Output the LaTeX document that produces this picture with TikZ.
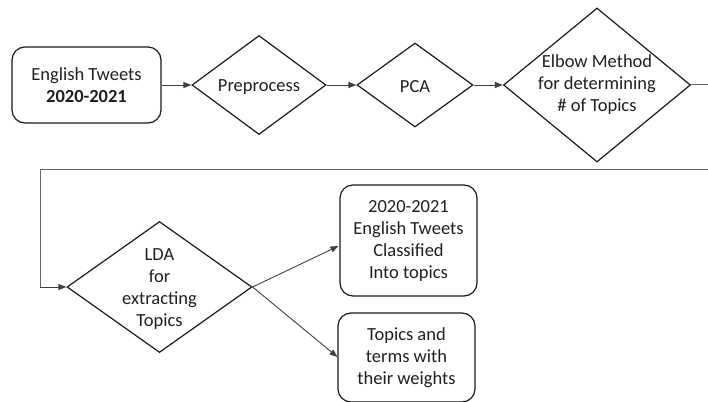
\documentclass[tikz,border=0pt]{standalone}
\usepackage{fontspec}
\setmainfont{Carlito}
\usetikzlibrary{shapes.geometric,arrows.meta}
\begin{document}
\begin{tikzpicture}[x=1pt,y=-1pt,
  txt/.style={align=center,text=black!88,font=\fontsize{18.5}{22}\selectfont,inner sep=0pt},
  rbox/.style={draw=black!90,line width=1.2pt,rounded corners=13pt,inner sep=0pt},
  dia/.style={draw=black!90,line width=1.2pt,diamond,inner sep=0pt},
  arr/.style={draw=black!75,line width=0.9pt,-{Triangle[length=8pt,width=6pt]}},
  loopline/.style={draw=black!60,line width=1pt}]
\useasboundingbox (0,0) rectangle (708,401);
% first row
\node[rbox,minimum width=149pt,minimum height=76pt] (src) at (86.5,85) {};
\node[txt] (srct) at (src) {English Tweets\\\textbf{2020-2021}};
\node[dia,minimum width=134pt,minimum height=99pt] (pre) at (259,85) {};
\node[txt] (pret) at (259,87) {Preprocess};
\node[dia,minimum width=116pt,minimum height=84pt] (pca) at (415,85) {};
\node[txt] (pcat) at (415,87) {PCA};
\node[dia,minimum width=187pt,minimum height=154pt] (elb) at (597,85) {};
\node[txt] (elbt) at (597,85) {Elbow Method\\for determining\\\# of Topics};
% second row
\node[dia,minimum width=185pt,minimum height=131pt] (lda) at (159.5,287) {};
\node[txt] (ldat) at (159.5,289) {LDA\\for\\extracting\\Topics};
\node[rbox,minimum width=137pt,minimum height=111pt] (cls) at (408.5,240.5) {};
\node[txt] (clst) at (cls) {2020-2021\\English Tweets\\Classified\\Into topics};
\node[rbox,minimum width=137pt,minimum height=89pt] (tw) at (406.5,357.5) {};
\node[txt] (twt) at (406.5,358) {Topics and\\terms with\\their weights};
% connectors
\draw[arr] (src.east) -- (pre.west);
\draw[arr] (pre.east) -- (pca.west);
\draw[arr] (pca.east) -- (elb.west);
\coordinate (r1) at (714,85);
\coordinate (r2) at (714,169.5);
\coordinate (l1) at (40,169.5);
\coordinate (l2) at (40,287);
\draw[loopline] (elb.east) -- (r1) -- (r2) -- (l1) -- (l2);
\draw[arr] (l2) -- (lda.west);
\coordinate (ca) at (338.5,246);
\coordinate (cb) at (337.5,357);
\draw[arr] (lda.east) -- (ca);
\draw[arr] (lda.east) -- (cb);
\end{tikzpicture}
\end{document}
